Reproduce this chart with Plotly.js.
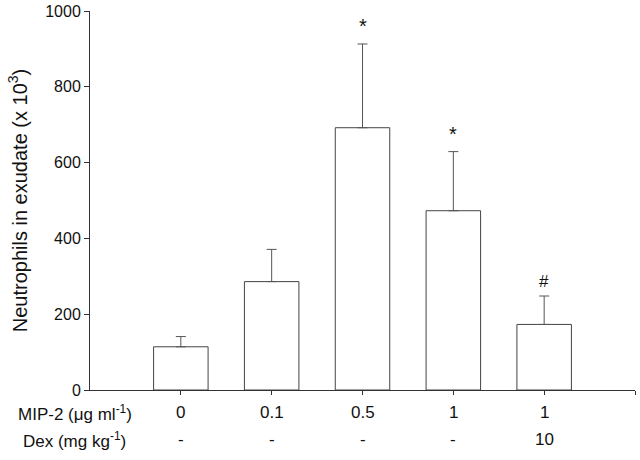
<!DOCTYPE html>
<html>
<head>
<meta charset="utf-8">
<script src="https://cdn.plot.ly/plotly-3.0.1.min.js"></script>
<style>html,body{margin:0;padding:0;background:#fff;}#chart{width:640px;height:460px;}</style>
</head>
<body>
<div id="chart"></div>
<script>
const groups = [0, 1, 2, 3, 4];
const mip2Labels = ["0", "0.1", "0.5", "1", "1"];
const dexLabels = ["-", "-", "-", "-", "10"];
const neutrophils = [114, 286, 692, 473, 173];
const errUpper = [27, 85, 221, 156, 75];
const markers = ["", "", "*", "*", "#"];

const font = "Liberation Sans, Arial, sans-serif";
const ink = "#333";

const annotations = [];
groups.forEach((g, i) => {
  if (markers[i]) {
    annotations.push({
      x: g, y: neutrophils[i] + errUpper[i], xref: "x", yref: "y",
      text: markers[i], showarrow: false, yanchor: "bottom",
      yshift: markers[i] === "*" ? 5 : 3,
      font: {family: font, size: markers[i] === "*" ? 20 : 17, color: "#111"}
    });
  }
  annotations.push({x: g, y: -0.06, xref: "x", yref: "paper", text: mip2Labels[i],
    showarrow: false, yanchor: "middle", font: {family: font, size: 17, color: "#111"}});
  annotations.push({x: g, y: -0.131, xref: "x", yref: "paper", text: dexLabels[i],
    showarrow: false, yanchor: "middle", font: {family: font, size: 17, color: "#111"}});
});
annotations.push({x: 0.08, y: -0.06, xref: "paper", yref: "paper", xanchor: "right",
  yanchor: "middle", text: "MIP-2 (μg ml<sup>-1</sup>)", showarrow: false,
  font: {family: font, size: 17, color: "#111"}});
annotations.push({x: 0.07, y: -0.131, xref: "paper", yref: "paper", xanchor: "right",
  yanchor: "middle", text: "Dex (mg kg<sup>-1</sup>)", showarrow: false,
  font: {family: font, size: 17, color: "#111"}});

const trace = {
  type: "bar", x: groups, y: neutrophils, width: 0.6,
  marker: {color: "#fff", line: {color: "#444", width: 1}},
  error_y: {type: "data", symmetric: false, array: errUpper, arrayminus: errUpper.map(() => 0),
    color: "#555", thickness: 1, width: 5}
};

const layout = {
  width: 640, height: 460,
  margin: {l: 90, r: 5, t: 11, b: 70},
  paper_bgcolor: "#fff", plot_bgcolor: "#fff",
  showlegend: false,
  xaxis: {range: [-1, 5], tickvals: [0, 1, 2, 3, 4, 5], showticklabels: false,
    ticks: "outside", ticklen: 4, tickcolor: ink, showline: true, linecolor: ink, linewidth: 1,
    showgrid: false, zeroline: false},
  yaxis: {range: [0, 1000], tickvals: [0, 200, 400, 600, 800, 1000],
    ticks: "outside", ticklen: 5, tickcolor: ink, showline: true, linecolor: ink, linewidth: 1,
    showgrid: false, zeroline: false,
    tickfont: {family: font, size: 16, color: "#111"},
    title: {text: "Neutrophils in exudate (x 10<sup>3</sup>)", standoff: 12,
      font: {family: font, size: 20, color: "#111"}}},
  annotations: annotations
};

Plotly.newPlot("chart", [trace], layout, {staticPlot: true, displayModeBar: false});
</script>
</body>
</html>
